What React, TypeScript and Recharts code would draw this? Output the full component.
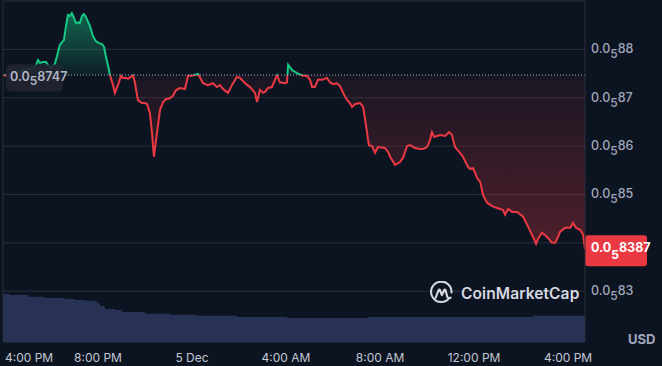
import {
  ComposedChart,
  Area,
  XAxis,
  YAxis,
  ReferenceLine,
  CartesianGrid,
} from 'recharts';

// hours since 4:00 PM, 4 Dec
const hours = [
  -0.04, 0.17, 0.47, 0.77, 1.02, 1.32, 1.45, 1.53, 1.66, 1.79, 1.87, 2.0, 2.17, 2.3, 2.38, 2.47,
  2.55, 2.64, 2.72, 2.81, 2.89, 2.98, 3.06, 3.15, 3.23, 3.32, 3.4, 3.49, 3.57, 3.66, 3.79, 3.91,
  4.04, 4.17, 4.26, 4.34, 4.43, 4.51, 4.64, 4.72, 4.85, 4.98, 5.06, 5.19, 5.28, 5.4, 5.49, 5.57,
  5.66, 5.7, 5.87, 6.0, 6.09, 6.21, 6.3, 6.38, 6.51, 6.64, 6.77, 6.89, 7.06, 7.19, 7.32, 7.49,
  7.7, 7.83, 8.04, 8.26, 8.47, 8.68, 8.89, 9.06, 9.19, 9.32, 9.53, 9.7, 9.91, 10.04, 10.26, 10.47,
  10.68, 10.77, 10.89, 11.02, 11.11, 11.23, 11.4, 11.53, 11.62, 11.74, 11.96, 12.04, 12.09, 12.26,
  12.47, 12.68, 12.89, 13.02, 13.11, 13.23, 13.36, 13.53, 13.74, 13.87, 14.0, 14.17, 14.3, 14.43,
  14.6, 14.72, 14.81, 14.94, 15.15, 15.28, 15.4, 15.49, 15.53, 15.66, 15.79, 15.91, 16.21, 16.34,
  16.43, 16.64, 16.85, 16.98, 17.15, 17.28, 17.49, 17.7, 17.83, 18.0, 18.13, 18.21, 18.3, 18.55,
  18.77, 18.94, 19.06, 19.19, 19.4, 19.53, 19.74, 19.83, 19.96, 20.13, 20.26, 20.38, 20.55, 20.77,
  20.98, 21.11, 21.23, 21.32, 21.45, 21.62, 21.83, 22.09, 22.3, 22.51, 22.64, 22.72, 22.89, 23.11,
  23.32, 23.45, 23.57, 23.66, 23.87, 24.09, 24.21, 24.34, 24.51, 24.64, 24.72,
];

// price in units of 0.0₅xxxx (8747 = 0.000008747)
const price = [
  8747, 8745, 8751, 8757, 8759, 8763, 8778, 8772, 8774, 8774, 8768, 8761, 8770, 8794, 8809, 8815,
  8819, 8848, 8871, 8869, 8875, 8865, 8854, 8856, 8854, 8869, 8873, 8867, 8858, 8848, 8827, 8817,
  8813, 8811, 8805, 8784, 8766, 8747, 8726, 8710, 8726, 8745, 8741, 8741, 8739, 8743, 8746, 8732,
  8706, 8695, 8689, 8689, 8687, 8668, 8627, 8578, 8627, 8675, 8691, 8697, 8699, 8704, 8716, 8720,
  8718, 8745, 8746, 8749, 8730, 8726, 8730, 8722, 8726, 8718, 8710, 8726, 8743, 8741, 8730, 8722,
  8710, 8691, 8716, 8710, 8712, 8720, 8722, 8737, 8746, 8732, 8730, 8732, 8768, 8757,
  8751, 8746, 8745, 8737, 8722, 8722, 8737, 8737, 8741, 8732, 8728, 8730, 8724, 8710,
  8695, 8689, 8681, 8687, 8689, 8681, 8644, 8613, 8602, 8600, 8586, 8598, 8596, 8588,
  8578, 8561, 8567, 8576, 8600, 8602, 8596, 8594, 8594, 8598, 8613, 8629, 8619, 8623,
  8621, 8629, 8623, 8598, 8586, 8578, 8557, 8553, 8555, 8534, 8526, 8499, 8483, 8476,
  8472, 8470, 8468, 8458, 8470, 8464, 8464, 8454, 8433, 8412, 8398, 8408, 8421, 8412,
  8400, 8400, 8412, 8423, 8431, 8431, 8441, 8431, 8427, 8417, 8387,
];

const openPrice = 8747;

// rolling 24h volume, $M
const volumeHours = [
  -0.04, 0.26, 1.02, 1.74, 2.6, 3.02, 3.45, 3.96, 4.09, 4.3, 4.72, 5.02, 6.0, 7.06, 8.21, 9.91,
  12.04, 15.49, 22.51, 24.72,
];
const volume = [
  4.8, 4.7, 4.53, 4.4, 4.3, 4.2, 4.13, 3.9, 3.6, 3.3, 3.2, 3.0, 2.83, 2.73, 2.63, 2.5, 2.4, 2.5,
  2.63, 2.63,
];

const timeTicks = [0, 4, 8, 12, 16, 20, 24];
const timeLabels = ['4:00 PM', '8:00 PM', '5 Dec', '4:00 AM', '8:00 AM', '12:00 PM', '4:00 PM'];
const priceTicks = [8300, 8400, 8500, 8600, 8700, 8800, 8900];

const GREEN = '#16c784';
const RED = '#ea3943';
const GRID = '#2a2e3a';
const FONT = 'Inter, "Noto Sans", sans-serif';

const priceData = hours.map((t, i) => ({ t, price: price[i] }));
const volumeData = volumeHours.map((t, i) => ({ t, volume: volume[i] }));

const lastPrice = price[price.length - 1];
const maxP = Math.max(...price);
const minP = Math.min(...price);
const splitOff = (maxP - openPrice) / (maxP - minP);

function SubPrice({ x, y, digits, size, subSize, drop, fill, weight, anchor }: any) {
  return (
    <text x={x} y={y} fill={fill} fontSize={size} fontWeight={weight} fontFamily={FONT} textAnchor={anchor}>
      <tspan>0.0</tspan>
      <tspan dy={drop} fontSize={subSize}>5</tspan>
      <tspan dy={-drop}>{digits}</tspan>
    </text>
  );
}

function PriceTick({ x, y, payload }: any) {
  const v = payload.value;
  if (v >= 8900 || Math.abs(v - lastPrice) < 40) return null;
  return (
    <SubPrice x={x} y={y + 4} digits={String(v / 100)} size={12.5} subSize={12} drop={5} fill="#a1a7bb" weight={500} anchor="start" />
  );
}

function TimeTick({ x, y, payload, index }: any) {
  const i = timeTicks.indexOf(payload.value);
  return (
    <text
      x={index === 0 ? x + 1 : x}
      y={y}
      dy={12}
      fill="#c3c8d4"
      fontSize={12}
      fontFamily={FONT}
      textAnchor={index === 0 ? 'start' : 'middle'}
    >
      {timeLabels[i]}
    </text>
  );
}

function OpenTag({ viewBox }: any) {
  const { x, y } = viewBox;
  return (
    <g>
      <rect x={x + 3} y={y - 10.5} width={57} height={27} rx={5} fill="#222531" fillOpacity={0.92} />
      <SubPrice x={x + 7} y={y + 5.5} digits={String(openPrice)} size={12.5} subSize={12} drop={4} fill="#b1b6c6" weight={600} anchor="start" />
    </g>
  );
}

function LastTag({ viewBox }: any) {
  const { x, y, width } = viewBox;
  return (
    <g>
      <rect x={x + width} y={y - 14} width={62} height={31} rx={3} fill={RED} />
      <SubPrice x={x + width + 6} y={y + 3} digits={String(lastPrice)} size={12.5} subSize={12} drop={7} fill="#ffffff" weight={700} anchor="start" />
    </g>
  );
}

export default function App() {
  return (
    <div
      style={{
        position: 'absolute',
        left: 0,
        top: 0,
        width: 662,
        height: 366,
        background: '#0d1421',
        fontFamily: FONT,
        overflow: 'hidden',
      }}
    >
      <ComposedChart width={662} height={366} data={priceData} margin={{ top: 1, right: 0, bottom: 0, left: 0 }}>
        <defs>
          <linearGradient id="priceStroke" x1="0" y1="0" x2="0" y2="1">
            <stop offset={0} stopColor={GREEN} />
            <stop offset={splitOff} stopColor={GREEN} />
            <stop offset={splitOff} stopColor={RED} />
            <stop offset={1} stopColor={RED} />
          </linearGradient>
          <linearGradient id="priceFill" x1="0" y1="0" x2="0" y2="1">
            <stop offset={0} stopColor={GREEN} stopOpacity={0.45} />
            <stop offset={splitOff} stopColor={GREEN} stopOpacity={0.06} />
            <stop offset={splitOff} stopColor={RED} stopOpacity={0.06} />
            <stop offset={1} stopColor={RED} stopOpacity={0.3} />
          </linearGradient>
        </defs>
        <CartesianGrid yAxisId="price" stroke={GRID} vertical={false} />
        <XAxis
          dataKey="t"
          type="number"
          domain={[hours[0], hours[hours.length - 1]]}
          ticks={timeTicks}
          tick={<TimeTick />}
          tickLine={false}
          axisLine={false}
          height={24}
          interval={0}
        />
        <YAxis
          yAxisId="vol"
          orientation="left"
          width={3}
          domain={[0, 34.1]}
          tick={false}
          tickLine={false}
          axisLine={{ stroke: GRID }}
        />
        <YAxis
          yAxisId="price"
          orientation="right"
          width={77}
          domain={[8195, 8900]}
          ticks={priceTicks}
          allowDataOverflow
          tick={<PriceTick />}
          tickLine={false}
          tickSize={4}
          tickMargin={2}
          axisLine={{ stroke: GRID }}
          interval={0}
        />
        <Area
          yAxisId="vol"
          data={volumeData}
          dataKey="volume"
          type="stepAfter"
          stroke="none"
          fill="#283254"
          fillOpacity={1}
          isAnimationActive={false}
          dot={false}
          activeDot={false}
        />
        <Area
          yAxisId="price"
          dataKey="price"
          type="linear"
          baseValue={openPrice}
          stroke="url(#priceStroke)"
          strokeWidth={2}
          fill="url(#priceFill)"
          fillOpacity={1}
          isAnimationActive={false}
          dot={false}
          activeDot={false}
        />
        <ReferenceLine
          yAxisId="price"
          y={openPrice}
          stroke="#a6abb9"
          strokeDasharray="1 2"
          strokeWidth={1}
          label={(p: any) => <OpenTag {...p} />}
        />
        <ReferenceLine
          yAxisId="price"
          y={lastPrice}
          stroke="none"
          label={(p: any) => <LastTag {...p} />}
        />
      </ComposedChart>
      <div
        style={{
          position: 'absolute',
          left: 429,
          top: 281,
          display: 'flex',
          alignItems: 'center',
          gap: 7,
          pointerEvents: 'none',
        }}
      >
        <svg width={25} height={25} viewBox="0 0 24 24">
          <path d="M19.5 16.5 A9.8 9.8 0 1 1 21.6 11" fill="none" stroke="#d6d9e0" strokeWidth={2} strokeLinecap="round" />
          <path
            d="M6.3 16.2 L9.3 8.6 Q9.9 7.6 10.5 8.6 L12.4 13.6 L14.6 8.6 Q15.2 7.6 15.8 8.6 L17.4 14.5 Q18.2 17.5 20.8 16"
            fill="none"
            stroke="#d6d9e0"
            strokeWidth={2}
            strokeLinecap="round"
            strokeLinejoin="round"
          />
        </svg>
        <span style={{ color: '#d6d9e0', fontSize: 15.5, fontWeight: 600, letterSpacing: 0.1 }}>CoinMarketCap</span>
      </div>
      <div
        style={{
          position: 'absolute',
          left: 628,
          top: 331,
          color: '#a1a7bb',
          fontSize: 13,
          fontWeight: 700,
          pointerEvents: 'none',
        }}
      >
        USD
      </div>
    </div>
  );
}
